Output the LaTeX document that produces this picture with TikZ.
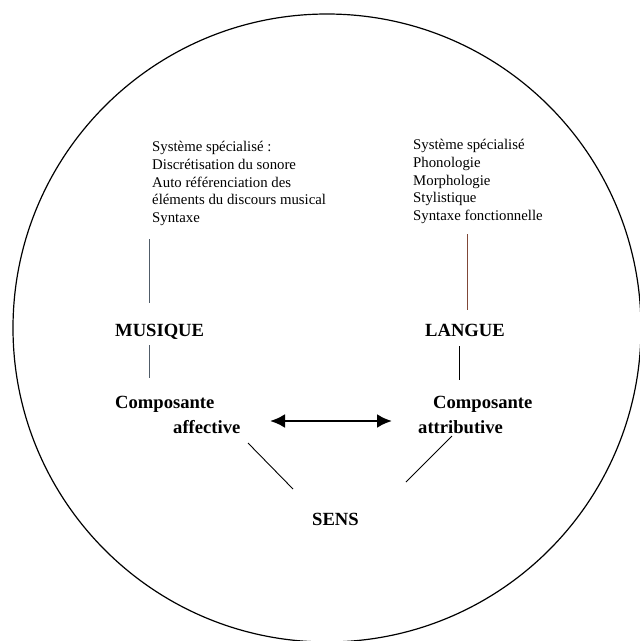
\documentclass[tikz,border=0pt]{standalone}
\usepackage{fontspec}
\setmainfont{Liberation Serif}
\usetikzlibrary{arrows.meta}
\definecolor{musline}{RGB}{80,92,104}
\definecolor{langline}{RGB}{128,72,56}
\begin{document}
\begin{tikzpicture}[x=1pt,y=-1pt,
  smalltext/.style={font=\fontsize{14.8}{17.6}\selectfont, align=left, inner sep=0pt, anchor=north west},
  biglabel/.style={font=\bfseries\fontsize{18.6}{24}\selectfont, inner sep=0pt, anchor=base west},
  thin/.style={line width=0.9pt}
]
\useasboundingbox (0,0) rectangle (640,641);
\fill[white] (0,0) rectangle (640,641);
\draw[line width=1.2pt] (327,328) circle[radius=314pt];

\node[smalltext] (msys) at (152,141.5) {Système spécialisé :\\Discrétisation du sonore\\Auto référenciation des\\éléments du discours musical\\Syntaxe};
\node[smalltext] (lsys) at (413,139.5) {Système spécialisé\\Phonologie\\Morphologie\\Stylistique\\Syntaxe fonctionnelle};

\node[biglabel] (mus) at (115,336) {MUSIQUE};
\node[biglabel] (lang) at (425,336) {LANGUE};
\node[biglabel] (comp1) at (115,408) {Composante};
\node[biglabel] (aff) at (173,433) {affective};
\node[biglabel] (comp2) at (433,408) {Composante};
\node[biglabel] (attr) at (418,433) {attributive};
\node[biglabel] (sens) at (312,525) {SENS};

\coordinate (a1) at (149,239);
\coordinate (a2) at (149,303);
\coordinate (b1) at (149,345);
\coordinate (b2) at (149,378);
\coordinate (c1) at (467,234);
\coordinate (c2) at (467,310);
\coordinate (d1) at (459,346);
\coordinate (d2) at (459,380);
\coordinate (e1) at (248,443);
\coordinate (e2) at (293,489);
\coordinate (f1) at (452,436);
\coordinate (f2) at (406,482);
\coordinate (g1) at (270,421);
\coordinate (g2) at (392,421);

\draw[thin, musline] (a1) -- (a2);
\draw[thin, musline] (b1) -- (b2);
\draw[thin, langline] (c1) -- (c2);
\draw[thin] (d1) -- (d2);
\draw[thin] (e1) -- (e2);
\draw[thin] (f1) -- (f2);
\draw[line width=2.5pt, {Latex[length=15pt,width=14pt]}-{Latex[length=15pt,width=14pt]}] (g1) -- (g2);
\end{tikzpicture}
\end{document}
